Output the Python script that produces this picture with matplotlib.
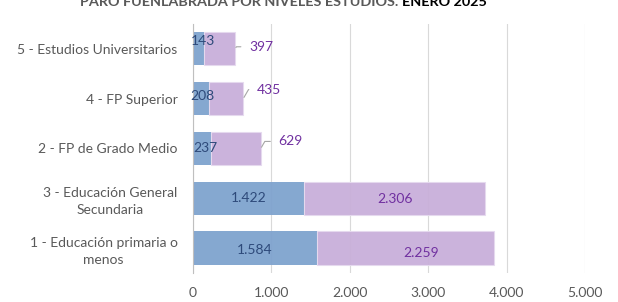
import matplotlib.pyplot as plt

plt.rcParams['font.family'] = ['Lato', 'DejaVu Sans']

# data (bottom -> top, as drawn)
categorias = ["1 - Educación primaria o\nmenos",
              "3 - Educación General\nSecundaria",
              "2 - FP de Grado Medio",
              "4 - FP Superior",
              "5 - Estudios Universitarios"]
serie_azul = [1584, 1422, 237, 208, 143]
serie_lila = [2259, 2306, 629, 435, 397]
etiquetas_x = ["0", "1.000", "2.000", "3.000", "4.000", "5.000"]

color_azul = "#7FA3CE"
color_lila = "#C9AFDA"

fig = plt.figure(figsize=(6.18, 3.02), dpi=100)
ax = fig.add_axes([0.312, 0.096, 0.635, 0.825])

y = range(len(categorias))
ax.barh(y, serie_azul, height=0.67, color=color_azul, zorder=1, alpha=0.95)
ax.barh(y, serie_lila, left=serie_azul, height=0.67, color=color_lila,
        edgecolor="#E6DAEF", linewidth=0.8, zorder=1, alpha=0.95)

def fmt(v):
    return f"{v:,}".replace(",", ".")

# offsets in pixels for the labels (Excel placement)
off_azul = [(0, -2), (0, 0), (3, 0), (1, 3), (5, 8)]
for i, v in enumerate(serie_azul):
    ax.annotate(fmt(v), (v / 2, i), xytext=off_azul[i], textcoords="offset pixels",
                ha="center", va="center", color="#2E4A7A", fontsize=10, zorder=3)

off_lila = [(15, -5), (0, -1), None, None, None]
fuera = [None, None, (30, 7), (26, 9), (26, 2)]
for i, v in enumerate(serie_lila):
    base = serie_azul[i]
    if off_lila[i] is not None:
        ax.annotate(fmt(v), (base + v / 2, i), xytext=off_lila[i], textcoords="offset pixels",
                    ha="center", va="center", color="#7030A0", fontsize=10, zorder=3)
    else:
        ax.annotate(fmt(v), (base + v, i), xytext=fuera[i], textcoords="offset pixels",
                    ha="center", va="center", color="#7030A0", fontsize=10, zorder=3,
                    arrowprops=dict(arrowstyle="-", color="#A6A6A6", lw=0.8,
                                    shrinkA=4, shrinkB=1, relpos=(0, 0.5),
                                    connectionstyle="angle,angleA=0,angleB=60,rad=0"))

ax.set_xlim(0, 5000)
ax.set_ylim(-0.5, len(categorias) - 0.5)
ax.set_xticks(range(0, 5001, 1000))
ax.set_xticklabels(etiquetas_x)
ax.set_yticks(list(y))
ax.set_yticklabels(categorias, multialignment="center", linespacing=1.45)
ax.tick_params(axis="both", length=0, labelsize=10, labelcolor="#595959")
ax.tick_params(axis="y", pad=11)
ax.tick_params(axis="x", pad=10)
ax.grid(axis="x", color="#D9D9D9", lw=0.8, zorder=0)
ax.set_axisbelow(True)
for s in ["top", "right", "bottom"]:
    ax.spines[s].set_visible(False)
ax.spines["left"].set_color("#BFBFBF")
ax.spines["left"].set_zorder(2)

# title, partly cut off at the top (as in the source image)
t1 = fig.text(0.13, 0.995, "PARO FUENLABRADA POR NIVELES ESTUDIOS. ", fontsize=10.4,
              fontweight="bold", color="#595959", va="center", ha="left")
fig.canvas.draw()
bb = t1.get_window_extent()
fig.text(bb.x1 / fig.bbox.width, 0.995, "ENERO 2025", fontsize=10.4,
         fontweight="bold", color="#000000", va="center", ha="left")

fig.savefig("out.png", dpi=100)
